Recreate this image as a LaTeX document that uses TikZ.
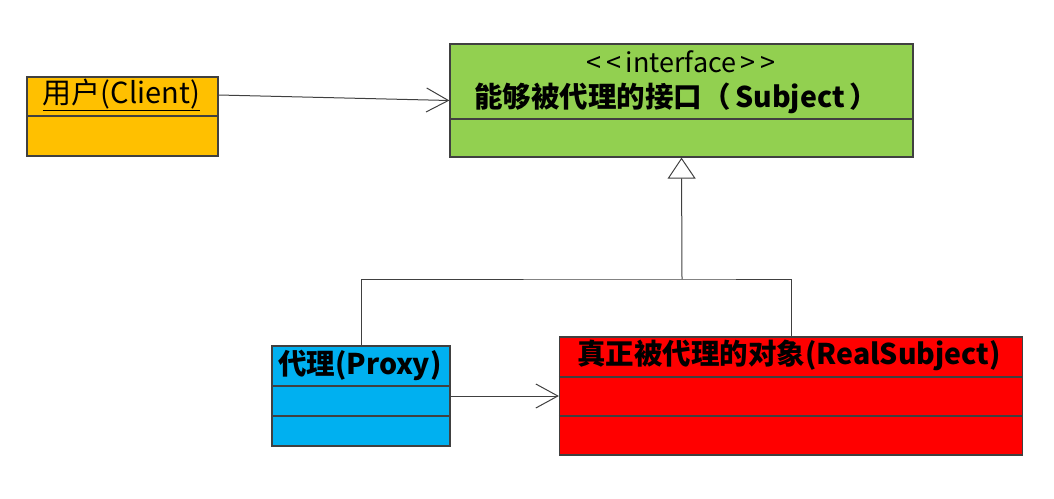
\documentclass[tikz,border=0pt]{standalone}
\usepackage{fontspec}
\usetikzlibrary{arrows.meta}
\newfontfamily\cjk{Noto Sans CJK SC}

\definecolor{ccorange}{RGB}{255,192,0}
\definecolor{ccgreen}{RGB}{146,208,80}
\definecolor{ccblue}{RGB}{0,176,240}
\definecolor{ccred}{RGB}{255,0,0}
\definecolor{ccline}{RGB}{64,64,64}

\begin{document}
\begin{tikzpicture}[x=1pt, y=-1pt,
  classbox/.style={draw=ccline, line width=1.2pt, rectangle, inner sep=0pt},
  divider/.style={draw=ccline, line width=1.2pt},
  title/.style={font=\cjk\fontsize{29}{32}\selectfont, inner sep=0pt},
  boldtitle/.style={font=\cjk\bfseries\fontsize{28.5}{32}\selectfont, inner sep=0pt},
  assoc/.style={draw=ccline, line width=1pt, -{Straight Barb[length=22pt, width=24pt]}},
  inherit/.style={draw=ccline, line width=1pt, -{Triangle[open, length=21pt, width=28pt, fill=white]}},
  link/.style={draw=ccline, line width=1pt}]

  \useasboundingbox (0,0) rectangle (1054,498);

  % Client
  \draw (122.5,116.5) node[classbox, fill=ccorange, minimum width=191pt, minimum height=79pt] (client) {};
  \draw[divider] (client.west |- 0,116) -- (client.east |- 0,116);
  \draw (121.5,95) node[title] (clientname) {\underline{用户(Client)}};

  % Subject
  \draw (681.5,100.5) node[classbox, fill=ccgreen, minimum width=463pt, minimum height=113pt] (subject) {};
  \draw[divider] (subject.west |- 0,119) -- (subject.east |- 0,119);
  \draw (681,62) node[title, font=\cjk\fontsize{27}{30}\selectfont] (stereo) {<\,<\,interface\,>\,>};
  \draw (676,98) node[boldtitle] (subjectname) {能够被代理的接口（\,Subject\,）};

  % Proxy
  \draw (361,396) node[classbox, fill=ccblue, minimum width=178pt, minimum height=100pt] (proxy) {};
  \draw[divider] (proxy.west |- 0,386) -- (proxy.east |- 0,386);
  \draw[divider] (proxy.west |- 0,416) -- (proxy.east |- 0,416);
  \draw (278,365) node[boldtitle, anchor=west] (proxyname) {代理(Proxy)};

  % RealSubject
  \draw (791,396) node[classbox, fill=ccred, minimum width=463pt, minimum height=118pt] (real) {};
  \draw[divider] (real.west |- 0,377) -- (real.east |- 0,377);
  \draw[divider] (real.west |- 0,416) -- (real.east |- 0,416);
  \draw (789,355) node[boldtitle] (realname) {真正被代理的对象(RealSubject)};

  % Connectors
  \coordinate (join) at (682,279);
  \draw[assoc] (client.east |- clientname) -- (subject.west);
  \draw[link] (proxy.north) |- (join) -| (real.north);
  \draw[inherit] (join) -- (subject.south);
  \draw[assoc] (proxy.east) -- (real.west);

\end{tikzpicture}
\end{document}
